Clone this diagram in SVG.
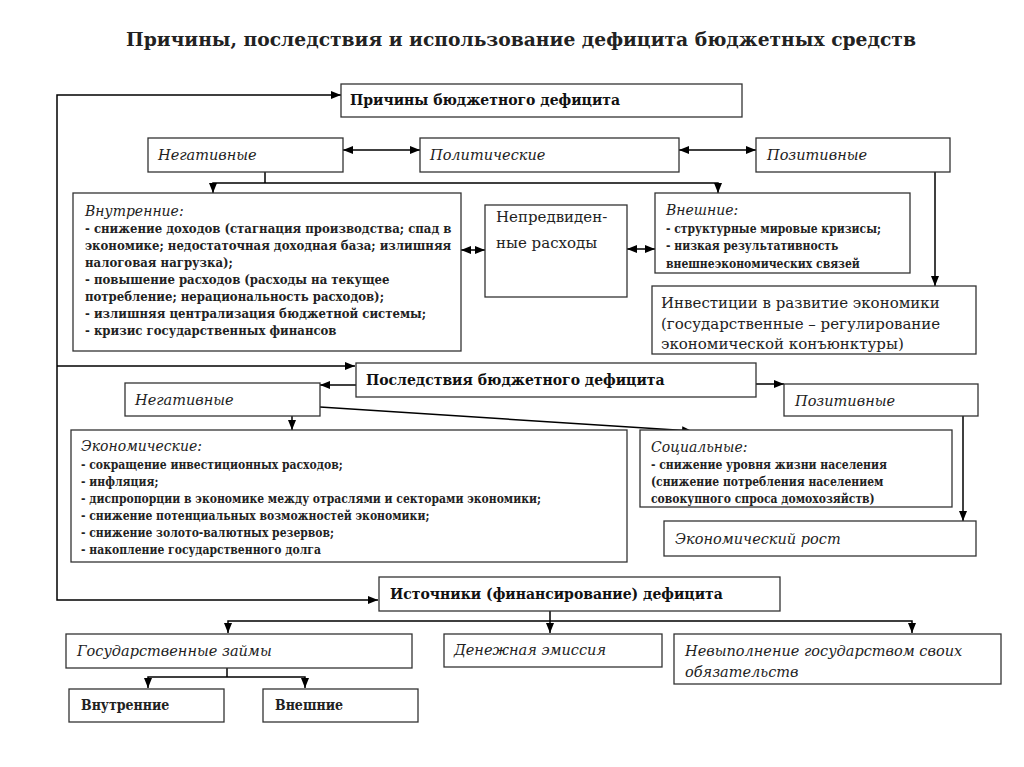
<svg xmlns="http://www.w3.org/2000/svg" width="1024" height="767" viewBox="0 0 1024 767">
<defs>
<marker id="ah" viewBox="0 0 10 10" refX="10" refY="5" markerWidth="10" markerHeight="10" markerUnits="userSpaceOnUse" orient="auto-start-reverse">
<path d="M0,1 L10,5 L0,9 z" fill="#000"/>
</marker>
<style>
.bx{fill:#fff;stroke:#333;stroke-width:1.3}
.ln{fill:none;stroke:#000;stroke-width:1.5}
.ttl{font-family:"DejaVu Serif","Liberation Serif",serif;font-weight:bold;font-size:18.7px;fill:#222}
.hd{font-family:"DejaVu Serif","Liberation Serif",serif;font-weight:bold;font-size:14px;fill:#111}
.it{font-family:"DejaVu Serif","Liberation Serif",serif;font-style:italic;font-size:14.5px;fill:#222}
.li{font-family:"DejaVu Serif Condensed","DejaVu Serif","Liberation Serif",serif;font-stretch:condensed;font-weight:bold;font-size:12px;fill:#222}
.lb{font-size:13px}
.rg{font-family:"DejaVu Serif","Liberation Serif",serif;font-size:15px;fill:#222}
.bd{font-family:"DejaVu Serif Condensed","DejaVu Serif","Liberation Serif",serif;font-weight:bold;font-size:14px;fill:#222}
</style>
</defs>
<rect width="1024" height="767" fill="#fff"/>
<text class="ttl" x="521" y="46" text-anchor="middle">Причины, последствия и  использование дефицита бюджетных средств</text>

<g id="connectors">
<path class="ln" d="M341,95 H57 V600 H378" marker-start="url(#ah)" marker-end="url(#ah)"/>
<path class="ln" d="M57,366 H355" marker-end="url(#ah)"/>
<path class="ln" d="M343,150 H420" marker-start="url(#ah)" marker-end="url(#ah)"/>
<path class="ln" d="M679,150 H756" marker-start="url(#ah)" marker-end="url(#ah)"/>
<path class="ln" d="M265,172 V183"/>
<path class="ln" d="M213,193 V183 H718 V193" marker-start="url(#ah)" marker-end="url(#ah)"/>
<path class="ln" d="M935,172 V286" marker-end="url(#ah)"/>
<path class="ln" d="M461,250 H485" marker-start="url(#ah)" marker-end="url(#ah)"/>
<path class="ln" d="M627,249 H655" marker-start="url(#ah)" marker-end="url(#ah)"/>
<path class="ln" d="M356,385 H320" marker-end="url(#ah)"/>
<path class="ln" d="M756,384 H784" marker-end="url(#ah)"/>
<path class="ln" d="M292,416 V430" marker-end="url(#ah)"/>
<path class="ln" d="M320,407 L692,431" marker-end="url(#ah)"/>
<path class="ln" d="M963,416 V521" marker-end="url(#ah)"/>
<path class="ln" d="M550,611 V633" marker-end="url(#ah)"/>
<path class="ln" d="M228,633 V621 H912 V633" marker-start="url(#ah)" marker-end="url(#ah)"/>
<path class="ln" d="M227,668 V677"/>
<path class="ln" d="M148,688 V677 H305 V688" marker-start="url(#ah)" marker-end="url(#ah)"/>
</g>

<g id="prichiny">
<rect class="bx" x="341" y="84" width="401" height="33"/>
<text class="hd" x="350" y="105">Причины бюджетного дефицита</text>
</g>
<g id="negativnye1">
<rect class="bx" x="148" y="138" width="195" height="34"/>
<text class="it" x="158" y="160">Негативные</text>
</g>
<g id="politicheskie">
<rect class="bx" x="420" y="138" width="259" height="34"/>
<text class="it" x="430" y="160">Политические</text>
</g>
<g id="pozitivnye1">
<rect class="bx" x="756" y="138" width="194" height="34"/>
<text class="it" x="767" y="160">Позитивные</text>
</g>
<g id="vnutrennie">
<rect class="bx" x="73" y="193" width="388" height="158"/>
<text class="it" x="85" y="216" style="font-size:14px">Внутренние:</text>
<text class="li lb" x="85" y="233">- снижение доходов (стагнация производства; спад в</text>
<text class="li lb" x="85" y="250">экономике; недостаточная доходная база; излишняя</text>
<text class="li lb" x="85" y="267">налоговая нагрузка);</text>
<text class="li lb" x="85" y="284">- повышение расходов (расходы на текущее</text>
<text class="li lb" x="85" y="301">потребление; нерациональность расходов);</text>
<text class="li lb" x="85" y="318">- излишняя централизация бюджетной системы;</text>
<text class="li lb" x="85" y="335">- кризис государственных финансов</text>
</g>
<g id="nepredvidennye">
<rect class="bx" x="485" y="205" width="142" height="92"/>
<text class="rg" x="496" y="222">Непредвиден-</text>
<text class="rg" x="496" y="248">ные расходы</text>
</g>
<g id="vneshnie">
<rect class="bx" x="655" y="193" width="255" height="80"/>
<text class="it" x="666" y="215" style="font-size:14px">Внешние:</text>
<text class="li" x="666" y="233">- структурные мировые кризисы;</text>
<text class="li" x="666" y="250">- низкая результативность</text>
<text class="li" x="666" y="268">внешнеэкономических связей</text>
</g>
<g id="investicii">
<rect class="bx" x="652" y="286" width="324" height="68"/>
<text class="rg" x="661" y="308">Инвестиции в развитие экономики</text>
<text class="rg" x="661" y="329">(государственные – регулирование</text>
<text class="rg" x="661" y="349">экономической конъюнктуры)</text>
</g>

<g id="posledstviya">
<rect class="bx" x="356" y="363" width="400" height="34"/>
<text class="hd" x="366" y="385">Последствия бюджетного дефицита</text>
</g>
<g id="negativnye2">
<rect class="bx" x="125" y="383" width="195" height="33"/>
<text class="it" x="135" y="405">Негативные</text>
</g>
<g id="pozitivnye2">
<rect class="bx" x="784" y="384" width="194" height="32"/>
<text class="it" x="795" y="406">Позитивные</text>
</g>
<g id="ekonomicheskie">
<rect class="bx" x="71" y="430" width="556" height="132"/>
<text class="it" x="81" y="451" style="font-size:14px">Экономические:</text>
<text class="li" x="81" y="469">- сокращение инвестиционных расходов;</text>
<text class="li" x="81" y="486">- инфляция;</text>
<text class="li" x="81" y="503">- диспропорции в экономике между отраслями и секторами экономики;</text>
<text class="li" x="81" y="520">- снижение потенциальных возможностей экономики;</text>
<text class="li" x="81" y="537">- снижение золото-валютных резервов;</text>
<text class="li" x="81" y="554">- накопление государственного долга</text>
</g>
<g id="socialnye">
<rect class="bx" x="640" y="430" width="312" height="77"/>
<text class="it" x="651" y="452" style="font-size:14px">Социальные:</text>
<text class="li" x="651" y="469">- снижение уровня жизни населения</text>
<text class="li" x="651" y="486">(снижение потребления населением</text>
<text class="li" x="651" y="503">совокупного спроса домохозяйств)</text>
</g>
<g id="rost">
<rect class="bx" x="664" y="521" width="312" height="35"/>
<text class="it" x="675" y="544">Экономический рост</text>
</g>

<g id="istochniki">
<rect class="bx" x="379" y="577" width="401" height="34"/>
<text class="hd" x="390" y="599">Источники (финансирование) дефицита</text>
</g>
<g id="zaimy">
<rect class="bx" x="66" y="634" width="346" height="34"/>
<text class="it" x="77" y="656">Государственные займы</text>
</g>
<g id="emissiya">
<rect class="bx" x="444" y="634" width="218" height="33"/>
<text class="it" x="454" y="655">Денежная эмиссия</text>
</g>
<g id="nevypolnenie">
<rect class="bx" x="674" y="634" width="327" height="50"/>
<text class="it" x="685" y="656">Невыполнение государством своих</text>
<text class="it" x="685" y="677">обязательств</text>
</g>
<g id="vnutr2">
<rect class="bx" x="69" y="689" width="155" height="33"/>
<text class="bd" x="81" y="710">Внутренние</text>
</g>
<g id="vnesh2">
<rect class="bx" x="263" y="689" width="155" height="33"/>
<text class="bd" x="275" y="710">Внешние</text>
</g>
</svg>
